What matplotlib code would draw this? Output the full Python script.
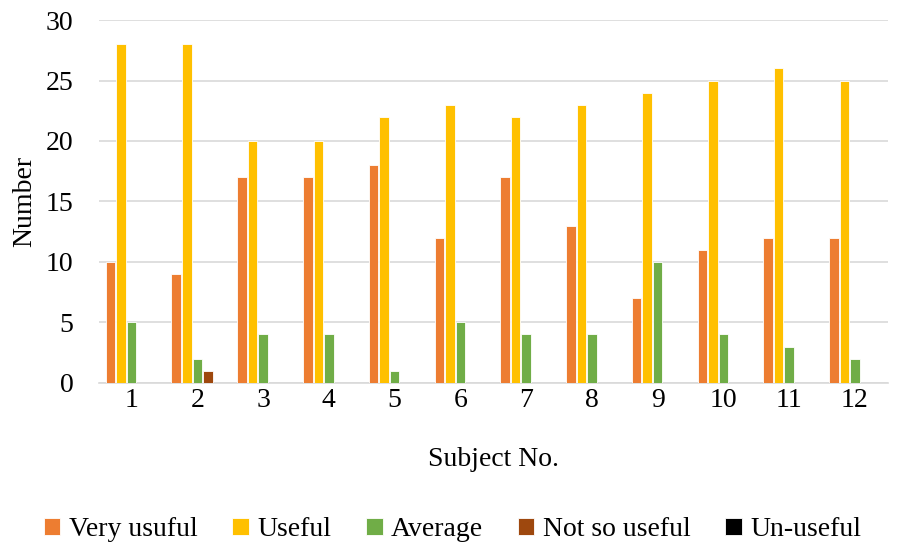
import numpy as np
import matplotlib.pyplot as plt

subjects = ['1', '2', '3', '4', '5', '6', '7', '8', '9', '10', '11', '12']
very_usuful = [10, 9, 17, 17, 18, 12, 17, 13, 7, 11, 12, 12]
useful = [28, 28, 20, 20, 22, 23, 22, 23, 24, 25, 26, 25]
average = [5, 2, 4, 4, 1, 5, 4, 4, 10, 4, 3, 2]
not_so_useful = [0, 1, 0, 0, 0, 0, 0, 0, 0, 0, 0, 0]
un_useful = [0, 0, 0, 0, 0, 0, 0, 0, 0, 0, 0, 0]

series = [
    ('Very usuful', very_usuful, '#ED7D31'),
    ('Useful', useful, '#FFC000'),
    ('Average', average, '#70AD47'),
    ('Not so useful', not_so_useful, '#9E480E'),
    ('Un-useful', un_useful, '#000000'),
]

plt.rcParams['font.family'] = ['Liberation Serif', 'DejaVu Serif']

fig = plt.figure(figsize=(9.05, 5.43), dpi=100)
ax = fig.add_axes([0.109, 0.295, 0.872, 0.668])

x = np.arange(len(subjects))
step = 0.16
for i, (name, vals, color) in enumerate(series):
    ax.bar(x + (i - 2) * step, vals, width=0.145, color=color,
           edgecolor='white', linewidth=0.6, label=name, zorder=3)

ax.set_xlim(-0.5, len(subjects) - 0.5)
ax.set_ylim(0, 30)
ax.set_yticks(range(0, 31, 5))
ax.set_xticks(x)
ax.set_xticklabels(subjects)
ax.tick_params(axis='both', length=0, labelsize=20, colors='#000000')
ax.tick_params(axis='x', pad=4)
ax.tick_params(axis='y', pad=18)

ax.grid(axis='y', color='#D9D9D9', linewidth=1.2, zorder=0)
for s in ['top', 'right', 'left']:
    ax.spines[s].set_visible(False)
ax.spines['bottom'].set_color('#D9D9D9')
ax.spines['bottom'].set_linewidth(1.2)

ax.set_xlabel('Subject No.', fontsize=20, labelpad=24)
ax.set_ylabel('Number', fontsize=20, labelpad=6)

handles, labels = ax.get_legend_handles_labels()
fig.legend(handles, labels, loc='lower center', bbox_to_anchor=(0.5, -0.045),
           ncol=5, frameon=False, fontsize=20, handlelength=0.6,
           handleheight=0.6, handletextpad=0.3, columnspacing=1.25)

plt.savefig('out.png', dpi=100)
